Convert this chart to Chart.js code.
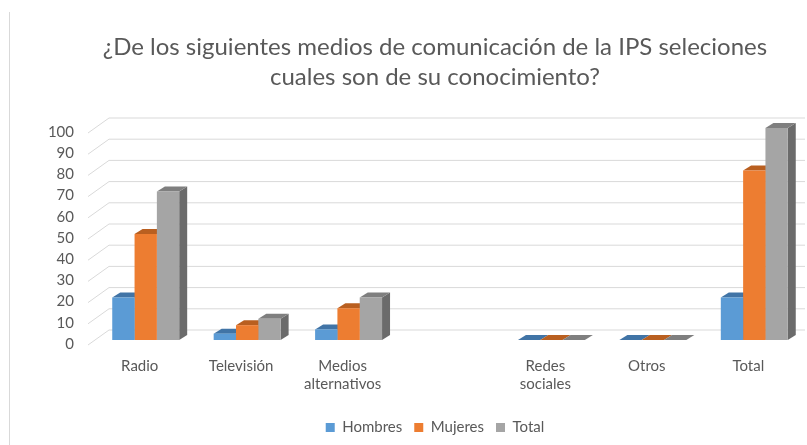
<!DOCTYPE html>
<html>
<head>
<meta charset="utf-8">
<script src="https://cdn.jsdelivr.net/npm/chart.js@4.4.0/dist/chart.umd.min.js"></script>
<style>
  body { margin: 0; background: #fff; }
  #wrap { width: 807px; height: 445px; }
</style>
</head>
<body>
<div id="wrap"><canvas id="myChart" width="807" height="445"></canvas></div>
<script>
'use strict';

// * Categories on the x axis (the 4th one is an empty slot in the original sheet).
const categories = ['Radio', 'Televisión', ['Medios', 'alternativos'], '', ['Redes', 'sociales'], 'Otros', 'Total'];
const seriesNames = ['Hombres', 'Mujeres', 'Total'];
const hombres = [20, 3, 5, null, 0, 0, 20];
const mujeres = [50, 7, 15, null, 0, 0, 80];
const totales = [70, 10, 20, null, 0, 0, 100];
const yTicks = { min: 0, max: 100, step: 10 };

const fronts = ['#5b9bd5', '#ed7d31', '#a5a5a5'];
const tops = ['#4174a6', '#b95f20', '#7f7f7f'];
const sides = ['#3c6a98', '#a9561c', '#6b6b6b'];

const FONT = 'Lato, "DejaVu Sans", sans-serif';
const GREY = '#595959';

// * Fake 3D: back-wall grid + top/side faces of every bar.
const fake3d = {
  id: 'fake3d',
  beforeDatasetsDraw(chart) {
    const { ctx, chartArea, scales } = chart;
    const y = scales.y;

    ctx.save();
    // frame line on the left (cropped Excel chart border)
    ctx.strokeStyle = '#d9d9d9';
    ctx.lineWidth = 1;
    ctx.beginPath();
    ctx.moveTo(9.5, 12);
    ctx.lineTo(9.5, chart.height);
    ctx.stroke();

    for (let v = yTicks.min; v <= yTicks.max; v += yTicks.step) {
      const yb = y.getPixelForValue(v);
      ctx.beginPath();
      ctx.moveTo(chartArea.left - 7, yb + 5);
      ctx.lineTo(chartArea.left + 14, yb - 10);
      ctx.lineTo(chartArea.right, yb - 10);
      ctx.stroke();
    }

    const dx = 8;
    const dy = -5;
    chart.data.datasets.forEach((ds, i) => {
      const meta = chart.getDatasetMeta(i);
      meta.data.forEach((bar, j) => {
        if (ds.data[j] == null) return;
        const p = bar.getProps(['x', 'y', 'base', 'width'], true);
        const l = p.x - p.width / 2;
        const r = p.x + p.width / 2;

        ctx.fillStyle = sides[i];
        ctx.beginPath();
        ctx.moveTo(r, p.y);
        ctx.lineTo(r + dx, p.y + dy);
        ctx.lineTo(r + dx, p.base + dy);
        ctx.lineTo(r, p.base);
        ctx.closePath();
        ctx.fill();

        ctx.fillStyle = tops[i];
        ctx.beginPath();
        ctx.moveTo(l, p.y);
        ctx.lineTo(l + dx, p.y + dy);
        ctx.lineTo(r + dx, p.y + dy);
        ctx.lineTo(r, p.y);
        ctx.closePath();
        ctx.fill();
      });
    });
    ctx.restore();
  },
};

const ctx = document.getElementById('myChart').getContext('2d');

const chart = new Chart(ctx, {
  type: 'bar',
  data: {
    labels: categories,
    datasets: [
      { label: seriesNames[0], data: hombres, backgroundColor: fronts[0] },
      { label: seriesNames[1], data: mujeres, backgroundColor: fronts[1] },
      { label: seriesNames[2], data: totales, backgroundColor: fronts[2] },
    ],
  },
  options: {
    responsive: false,
    animation: false,
    // left padding keeps title/legend centred like the original; y labels hang outside
    layout: { padding: { left: 65, right: 2, top: 0, bottom: 0 } },
    datasets: {
      bar: { categoryPercentage: 0.66, barPercentage: 1, borderWidth: 0 },
    },
    scales: {
      x: {
        grid: { display: false, drawTicks: false },
        border: { display: false },
        ticks: {
          color: GREY,
          font: { family: FONT, size: 15 },
          padding: 17,
          labelOffset: -6,
          maxRotation: 0,
          autoSkip: false,
        },
        afterFit: (s) => { s.height = 68; },
      },
      y: {
        min: yTicks.min,
        max: yTicks.max,
        grid: { display: false, drawTicks: false },
        border: { display: false },
        ticks: {
          stepSize: yTicks.step,
          color: GREY,
          font: { family: FONT, size: 15 },
          padding: 21,
          labelOffset: 4,
        },
        afterFit: (s) => {
          s.width = 30;
          s._computeLabelArea = () => undefined; // no clipping of the tick labels
        },
      },
    },
    plugins: {
      title: {
        display: true,
        text: ['¿De los siguientes medios de comunicación de la IPS seleciones', 'cuales son de su conocimiento?'],
        color: GREY,
        font: { family: FONT, size: 24, weight: 'normal', lineHeight: 1.25 },
        padding: { top: 32, bottom: 36 },
      },
      legend: {
        position: 'bottom',
        labels: {
          color: GREY,
          font: { family: FONT, size: 15 },
          boxWidth: 9,
          boxHeight: 9,
          padding: 12,
        },
      },
      tooltip: { enabled: false },
    },
  },
  plugins: [fake3d],
});
</script>
</body>
</html>
